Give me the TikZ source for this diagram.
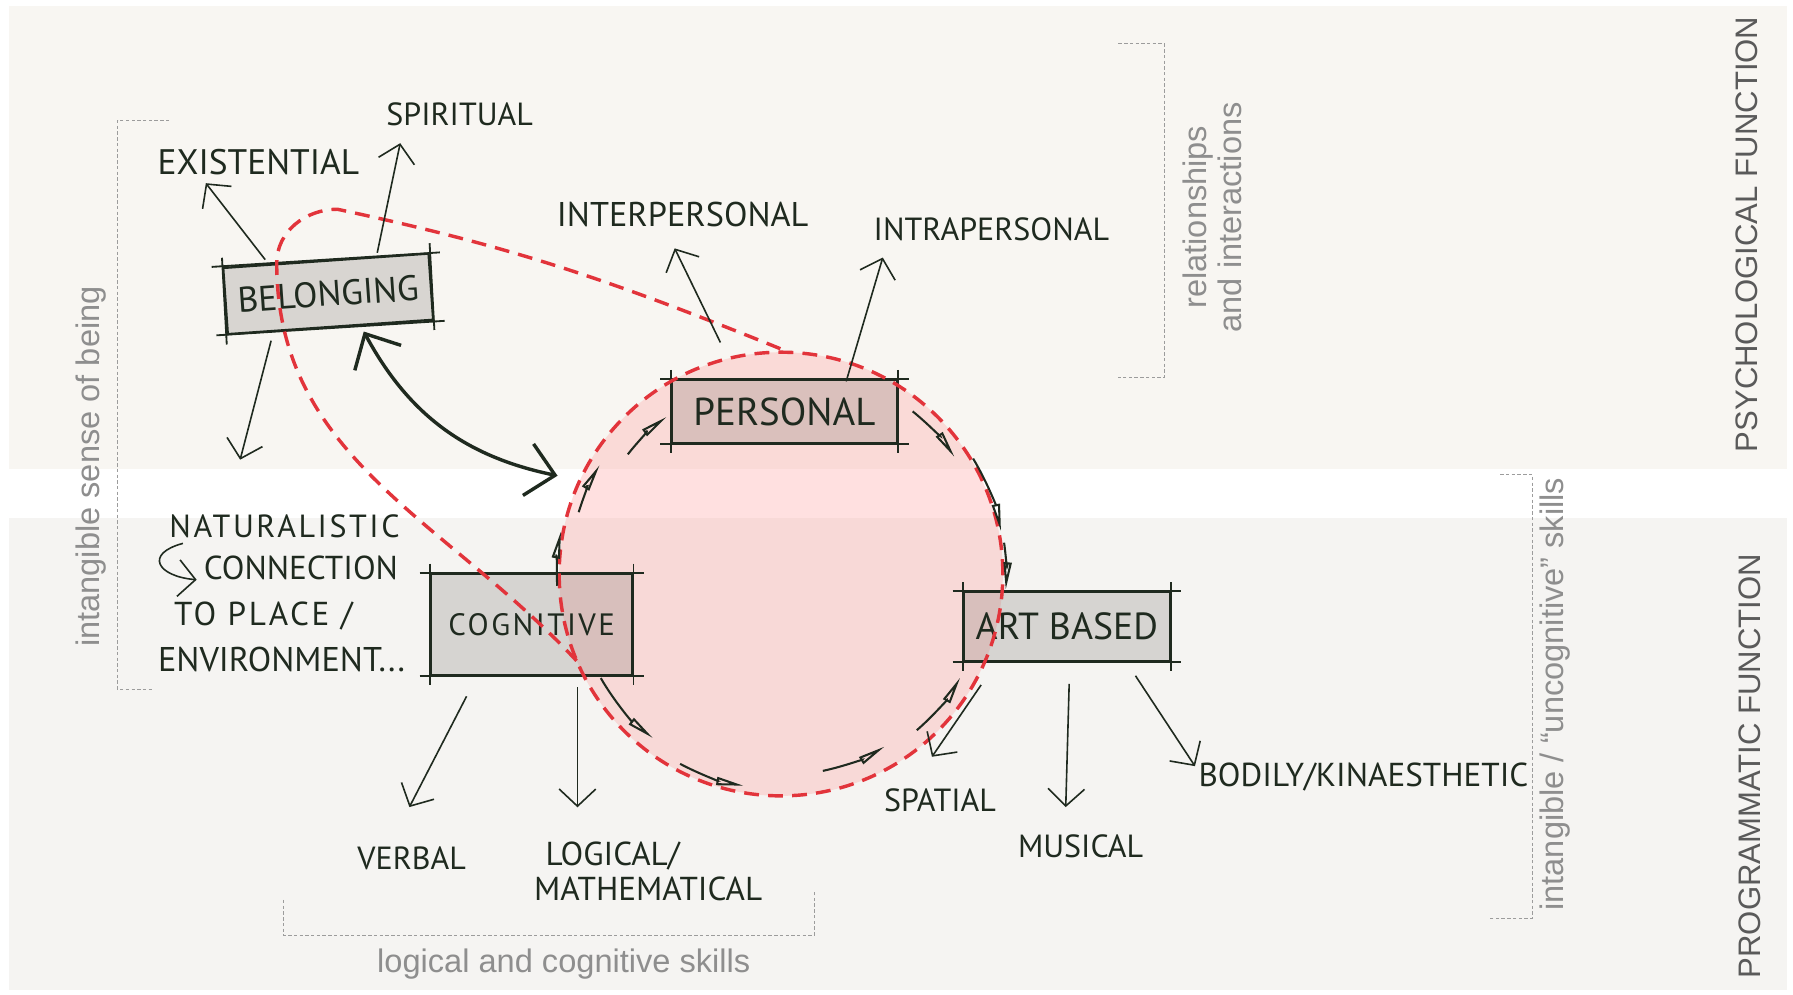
\documentclass[tikz,border=0pt]{standalone}
\usepackage{fontspec}
\setmainfont{Liberation Sans}
\newfontfamily\handfont{PT Sans}
\newfontfamily\handspaced[LetterSpace=8]{PT Sans}
\usetikzlibrary{arrows.meta,positioning}
\definecolor{ink}{HTML}{1F2A1F}
\definecolor{boxshade}{HTML}{6A6460}
\definecolor{ringpink}{HTML}{FF9B9B}
\definecolor{dashred}{HTML}{E2343B}
\definecolor{labelgrey}{HTML}{8E8E8E}
\definecolor{titlegrey}{HTML}{5A5A5A}
\definecolor{bracketgrey}{HTML}{9C9C9C}
\definecolor{bandtop}{HTML}{F8F6F2}
\definecolor{bandbottom}{HTML}{F5F4F2}

\begin{document}
\begin{tikzpicture}[
    x=1pt, y=1pt,
    hand/.style={font=\handfont\fontsize{28}{31}\selectfont, text=ink, inner sep=0pt, text height=20pt, text depth=0pt},
    sketchline/.style={draw=ink, line width=1.6pt},
    sketchbox/.style={draw=ink, line width=2pt, fill=boxshade, fill opacity=0.22, text opacity=1, inner sep=0pt,
        font=\handfont\fontsize{31}{34}\selectfont, text=ink,
        append after command={
            ([xshift=-9pt]\tikzlastnode.north west) edge[sketchline] ([xshift=9pt]\tikzlastnode.north east)
            ([xshift=-9pt]\tikzlastnode.south west) edge[sketchline] ([xshift=9pt]\tikzlastnode.south east)
            ([yshift=8pt]\tikzlastnode.north west) edge[sketchline] ([yshift=-8pt]\tikzlastnode.south west)
            ([yshift=8pt]\tikzlastnode.north east) edge[sketchline] ([yshift=-8pt]\tikzlastnode.south east)}},
    pinkring/.style={circle, fill=ringpink, fill opacity=0.3, minimum size=388pt, inner sep=0pt},
    reddash/.style={draw=dashred, line width=3pt, dash pattern=on 13pt off 8pt},
    greylabel/.style={font=\fontsize{28.5}{31}\selectfont, text=labelgrey, align=center},
    sidetitle/.style={font=\fontsize{27.2}{30}\selectfont, text=titlegrey},
    bracket/.style={draw=bracketgrey, line width=0.9pt, dash pattern=on 3pt off 2pt},
    arr/.style={-{Straight Barb[length=15pt, width=32pt]}, draw=ink, line width=1.4pt},
    dbl/.style={{Straight Barb[length=24pt, width=46pt]}-{Straight Barb[length=24pt, width=46pt]}, draw=ink, line width=3pt},
    cyc/.style={-{Triangle[open, length=24pt, width=7pt]}, draw=ink, line width=1.8pt}
]
\path[use as bounding box, fill=white] (0,0) rectangle (1568,870);
\fill[bandtop] (8,460) rectangle (1563,865);
\fill[bandbottom] (8,4) rectangle (1563,417);

\node[pinkring] (ring) at (683,368) {};

\node[sketchbox, minimum width=180pt, minimum height=58pt, rotate=4] (bel) at (287,613) {BELONGING};
\node[sketchbox, minimum width=197pt, minimum height=55pt, font=\handfont\fontsize{34}{36}\selectfont] (pers) at (686,510) {PERSONAL};
\node[sketchbox, minimum width=176pt, minimum height=88pt, font=\handspaced\fontsize{27}{30}\selectfont] (cogn) at (465,324) {COGNITIVE};
\node[sketchbox, minimum width=180pt, minimum height=60pt, font=\handfont\fontsize{33}{36}\selectfont] (art) at (933,322) {ART BASED};

\node[hand, font=\handfont\fontsize{31}{34}\selectfont] (exist) at (226,727) {EXISTENTIAL};
\node[hand] (spirit) at (402,770) {SPIRITUAL};
\node[hand, font=\handfont\fontsize{30}{33}\selectfont] (inter) at (597,682) {INTERPERSONAL};
\node[hand] (intra) at (867,670) {INTRAPERSONAL};
\node[hand, anchor=west, font=\handspaced\fontsize{28}{31}\selectfont] (natur) at (148,410) {NATURALISTIC};
\node[hand, anchor=west, font=\handfont\fontsize{29}{32}\selectfont] (conn) at (178,373) {CONNECTION};
\node[hand, anchor=west, font=\handspaced\fontsize{29}{32}\selectfont] (place) at (152,333) {TO PLACE /};
\node[hand, anchor=west, font=\handfont\fontsize{30}{33}\selectfont] (envir) at (138,293) {ENVIRONMENT...};
\node[hand] (verbal) at (360,120) {VERBAL};
\node[hand, anchor=north west, align=left, text height=, font=\handfont\fontsize{29}{31}\selectfont] (logic) at (467,134) {\hspace*{10pt}LOGICAL/\\MATHEMATICAL};
\node[hand] (spatial) at (822,170) {SPATIAL};
\node[hand] (musical) at (945,130) {MUSICAL};
\node[hand, anchor=west, font=\handfont\fontsize{29}{32}\selectfont] (bodily) at (1048,192) {BODILY/KINAESTHETIC};

\draw[reddash] (ring.center) circle[radius=194pt];
\coordinate (tearleft) at (242,640);
\coordinate (teartop) at (295,687);
\draw[reddash] (ring.203) to[out=133, in=-90] (tearleft) to[out=90, in=180] (teartop) to[out=-12, in=158] (ring.88);

\draw[cyc] ([shift={(142:170)}]ring.center) arc[start angle=142, end angle=126, radius=170pt];
\draw[cyc] ([shift={(163:185)}]ring.center) arc[start angle=163, end angle=149, radius=185pt];
\draw[cyc] ([shift={(183:196)}]ring.center) arc[start angle=183, end angle=169, radius=196pt];
\draw[cyc] ([shift={(210:182)}]ring.center) arc[start angle=210, end angle=232, radius=182pt];
\draw[cyc] ([shift={(242:188)}]ring.center) arc[start angle=242, end angle=260, radius=188pt];
\draw[cyc] ([shift={(282:176)}]ring.center) arc[start angle=282, end angle=301, radius=176pt];
\draw[cyc] ([shift={(311:181)}]ring.center) arc[start angle=311, end angle=330, radius=181pt];
\draw[cyc] ([shift={(8:197)}]ring.center) arc[start angle=8, end angle=-4, radius=197pt];
\draw[cyc] ([shift={(31:196)}]ring.center) arc[start angle=31, end angle=11, radius=196pt];
\draw[cyc] ([shift={(51:183)}]ring.center) arc[start angle=51, end angle=34, radius=183pt];

\coordinate (belend) at (210,468);
\draw[arr] ([xshift=-53pt]bel.north) -- ([xshift=-46pt, yshift=-7pt]exist.south);
\draw[arr] ([xshift=45pt, yshift=6pt]bel.north) -- ([xshift=-52pt, yshift=-15pt]spirit.south);
\draw[arr] ([xshift=-52pt, yshift=-11pt]bel.south) -- (belend);
\draw[dbl] ([xshift=29pt, yshift=-3pt]bel.south) to[bend right=25] ([xshift=-18pt, yshift=7pt]ring.156);
\draw[arr] ([xshift=-56pt, yshift=32pt]pers.north) -- ([xshift=-7pt, yshift=-19pt]inter.south);
\draw[arr] ([xshift=54pt, yshift=-2pt]pers.north) -- ([xshift=-95pt, yshift=-15pt]intra.south);
\draw[arr] ([xshift=12pt, yshift=-5pt]natur.south west) .. controls +(195:35pt) and +(175:35pt) .. ([xshift=-6pt, yshift=-10pt]conn.west);
\draw[arr] ([xshift=-57pt, yshift=-18pt]cogn.south) -- ([xshift=-2pt, yshift=34pt]verbal.north);
\draw[arr] ([xshift=40pt, yshift=-10pt]cogn.south) -- ([xshift=38pt, yshift=30pt]logic.north west);
\draw[arr] ([xshift=-75pt, yshift=-20pt]art.south) -- ([xshift=-7pt, yshift=28pt]spatial.north);
\draw[arr] ([xshift=2pt, yshift=-19pt]art.south) -- ([xshift=-13pt, yshift=24pt]musical.north);
\draw[arr] ([xshift=60pt, yshift=-12pt]art.south) -- ([xshift=-3pt, yshift=8pt]bodily.west);

\draw[bracket] (148,765) -- (103,765) -- (103,267) -- (133,267);
\draw[bracket] (978,832) -- (1018,832) -- (1018,540) -- (978,540);
\draw[bracket] (1312,455) -- (1340,455) -- (1340,67) -- (1303,67);
\draw[bracket] (248,83) -- (248,52) -- (712,52) -- (712,90);

\node[greylabel, rotate=90] (being) at (80,462) {intangible sense of being};
\node[greylabel, rotate=90] (relations) at (1060,680) {relationships\\and interactions};
\node[greylabel, rotate=90] (uncog) at (1360,263) {intangible / “uncognitive” skills};
\node[greylabel] (logskills) at (493,27) {logical and cognitive skills};
\node[sidetitle, rotate=90] (psych) at (1528,665) {PSYCHOLOGICAL FUNCTION};
\node[sidetitle, rotate=90] (prog) at (1530,200) {PROGRAMMATIC FUNCTION};
\end{tikzpicture}
\end{document}
